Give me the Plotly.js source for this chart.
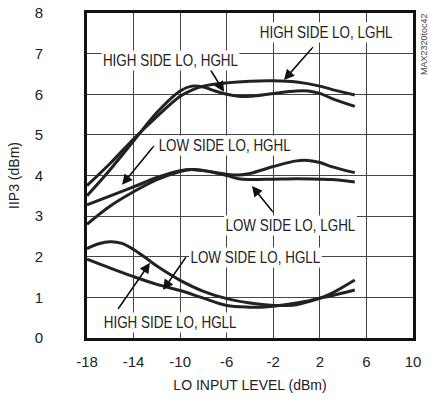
<!DOCTYPE html>
<html><head><meta charset="utf-8">
<script src="https://cdn.plot.ly/plotly-3.0.1.min.js"></script>
<style>html,body{margin:0;padding:0;background:#fff}#c{width:429px;height:401px}</style>
</head><body><div id="c"></div>
<script>
// LO input level (dBm)
var hsHGHL_x = [-18,-16,-14,-12,-10,-9,-8,-7,-6,-5,-4,-2,0,1,2,3,5];
var hsHGHL_y = [3.5,4.15,4.85,5.55,6.08,6.2,6.18,6.08,6.0,5.95,5.95,6.02,6.08,6.08,6.02,5.9,5.7];
var hsLGHL_x = [-18,-16,-14,-12,-10,-9,-8,-6,-4,-2,0,2,3,5];
var hsLGHL_y = [3.75,4.3,4.9,5.45,5.95,6.1,6.2,6.28,6.32,6.33,6.3,6.2,6.12,5.98];
var lsHGHL_x = [-18,-16,-14,-12,-10,-9,-8,-6,-5,-4,-2,0,1,2,3,5];
var lsHGHL_y = [3.28,3.5,3.72,3.95,4.12,4.15,4.12,4.03,4.01,4.05,4.22,4.36,4.37,4.32,4.22,4.07];
var lsLGHL_x = [-18,-16,-14,-12,-10,-9,-8,-6,-5,-4,-2,0,2,3,5];
var lsLGHL_y = [2.8,3.25,3.6,3.9,4.1,4.15,4.12,4.0,3.92,3.9,3.91,3.92,3.91,3.9,3.84];
var hsHGLL_x = [-18,-17,-16,-15,-14,-13,-12,-10,-8,-6,-4,-2,-1,0,2,3,5];
var hsHGLL_y = [2.2,2.32,2.37,2.33,2.18,1.98,1.77,1.42,1.15,0.97,0.86,0.8,0.8,0.82,0.98,1.1,1.43];
var lsHGLL_x = [-18,-16,-14,-12,-10,-8,-6,-4,-3,-2,0,2,3,5];
var lsHGLL_y = [1.94,1.72,1.51,1.32,1.17,0.98,0.8,0.76,0.76,0.78,0.86,0.98,1.04,1.18];

var xTicks = [-18,-14,-10,-6,-2,2,6,10];
var yTicks = [0,1,2,3,4,5,6,7,8];

var labels = ["HIGH SIDE LO, LGHL","HIGH SIDE LO, HGHL","LOW SIDE LO, HGHL","LOW SIDE LO, LGHL","LOW SIDE LO, HGLL","HIGH SIDE LO, HGLL"];
var labelX = [2.53,-10.87,-6.15,-0.56,-3.57,-10.87];
var labelY = [7.51,6.84,4.75,2.78,1.99,0.39];
var headX = [-1.08,-6.23,-14.99,-3.83,-11.47,-12.59];
var headY = [6.35,6.06,3.77,3.74,1.18,1.85];
var tailX = [1.41,-7.6,-12.25,-2.02,-9.5,-15.34];
var tailY = [7.16,6.7,4.73,3.1,1.99,0.71];

var FONT = '"Liberation Sans",Arial,sans-serif';
var lineStyle = {color:'#222', width:3, shape:'spline', smoothing:1};
function tr(x,y){return {x:x,y:y,type:'scatter',mode:'lines',line:lineStyle,hoverinfo:'skip'};}
var data = [tr(hsHGHL_x,hsHGHL_y),tr(hsLGHL_x,hsLGHL_y),tr(lsHGHL_x,lsHGHL_y),tr(lsLGHL_x,lsLGHL_y),tr(hsHGLL_x,hsHGLL_y),tr(lsHGLL_x,lsHGLL_y)];

var ann = [];
for (var i=0;i<labels.length;i++){
  ann.push({x:tailX[i],y:tailY[i],xref:'x',yref:'y',text:'',showarrow:true,
    ax:headX[i],ay:headY[i],axref:'x',ayref:'y',arrowhead:0,arrowwidth:1.3,arrowcolor:'#111',
    startstandoff:0,standoff:0});
  ann.push({x:headX[i],y:headY[i],xref:'x',yref:'y',text:'',showarrow:true,
    ax:tailX[i],ay:tailY[i],axref:'x',ayref:'y',arrowhead:2,arrowsize:1.6,arrowwidth:1.3,arrowcolor:'#111'});
  ann.push({x:labelX[i],y:labelY[i],xref:'x',yref:'y',text:labels[i],showarrow:false,
    bgcolor:'#fff',borderpad:1,font:{family:FONT,size:16,color:'#222'}});
}
ann.push({x:1,y:1,xref:'paper',yref:'paper',xanchor:'left',yanchor:'top',xshift:4,yshift:2,text:'MAX2320toc42',
  textangle:-90,showarrow:false,font:{family:FONT,size:9,color:'#444'}});

var layout = {
  width:429,height:401,
  margin:{l:87,r:16,t:13,b:63},
  paper_bgcolor:'#fff',plot_bgcolor:'#fff',
  showlegend:false,
  font:{family:FONT,size:15,color:'#222'},
  xaxis:{range:[-18,10],tickvals:xTicks,ticktext:xTicks.map(String),showgrid:true,gridcolor:'#444',gridwidth:1,
    zeroline:false,showline:true,linecolor:'#111',linewidth:3,mirror:true,ticks:'',ticklabelstandoff:8,
    tickfont:{family:FONT,size:15,color:'#222'},
    title:{text:'LO INPUT LEVEL (dBm)',font:{family:FONT,size:14,color:'#222'},standoff:12}},
  yaxis:{range:[0,8],tickvals:yTicks,ticktext:yTicks.map(String),showgrid:true,gridcolor:'#444',gridwidth:1,
    zeroline:false,showline:true,linecolor:'#111',linewidth:3,mirror:true,ticks:'',ticklabelstandoff:38,
    tickfont:{family:FONT,size:15,color:'#222'},
    title:{text:'IIP3 (dBm)',font:{family:FONT,size:14,color:'#222'},standoff:12}},
  annotations:ann
};
Plotly.newPlot('c',data,layout,{staticPlot:true,displayModeBar:false}).then(function(){
  // condense the label text to mimic the narrow typeface of the original
  var s = 0.84;
  document.querySelectorAll('#c .annotation-text-g').forEach(function(g){
    var txt = g.querySelector('text');
    var rect = g.querySelector('rect.bg');
    if(!txt || !txt.textContent || txt.textContent.indexOf('MAX')===0) return;
    var bb = txt.getBBox();
    var cx = bb.x + bb.width/2;
    var t = 'translate('+cx+',0) scale('+s+',1) translate('+(-cx)+',0)';
    txt.setAttribute('transform', t);
    if(rect){ rect.setAttribute('transform', t); }
  });
});
</script></body></html>
